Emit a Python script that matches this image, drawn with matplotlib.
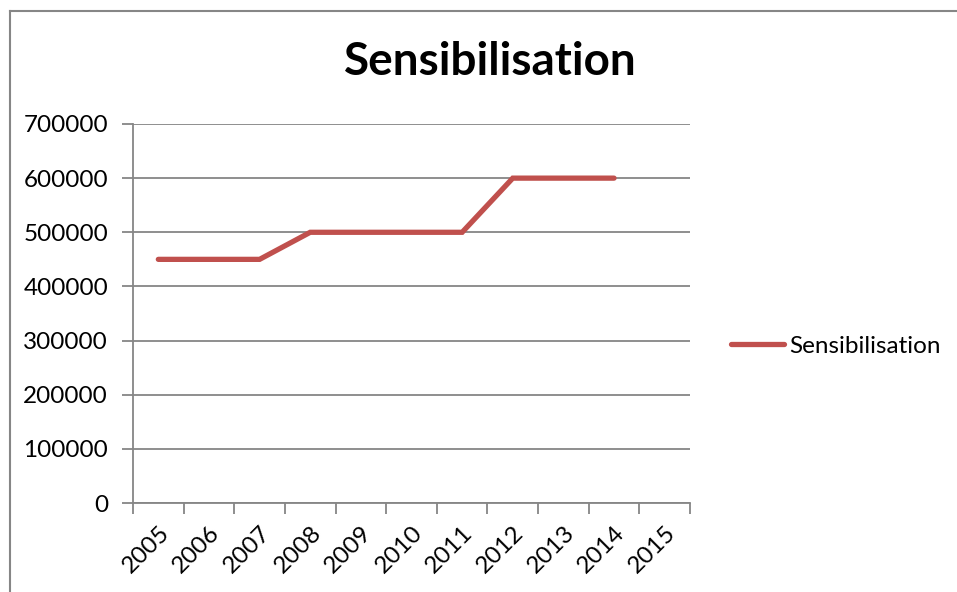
import numpy as np
import matplotlib.pyplot as plt
from matplotlib.lines import Line2D

years = ['2005', '2006', '2007', '2008', '2009', '2010',
         '2011', '2012', '2013', '2014', '2015']
sensibilisation = [450000, 450000, 450000, 500000, 500000, 500000,
                   500000, 600000, 600000, 600000, np.nan]
y_ticks = [0, 100000, 200000, 300000, 400000, 500000, 600000, 700000]

W, H = 957, 592
grey = '#868686'
red = '#C0504D'

plt.rcParams['font.family'] = ['Lato', 'DejaVu Sans']

fig = plt.figure(figsize=(W / 100, H / 100), dpi=100)

# plot area in pixel coordinates
left, right, top, bottom = 133, 690, 124, 503
ax = fig.add_axes([left / W, 1 - bottom / H, (right - left) / W, (bottom - top) / H])

centers = np.arange(len(years)) + 0.5
ax.plot(centers, sensibilisation, color=red, lw=3.8,
        solid_capstyle='round', solid_joinstyle='miter', label='Sensibilisation', zorder=3)

ax.set_xlim(0, len(years))
ax.set_ylim(0, 700000)

ax.set_yticks(y_ticks)
ax.set_yticklabels([str(v) for v in y_ticks], fontsize=17.5)
ax.yaxis.grid(True, color=grey, lw=1.3)
ax.set_axisbelow(True)

# tick marks between categories, labels at category centres
ax.set_xticks(np.arange(len(years) + 1))
ax.set_xticklabels([])
ax.set_xticks(centers, minor=True)
ax.set_xticklabels(years, minor=True, rotation=45, ha='right',
                   rotation_mode='anchor', fontsize=17.5)
ax.tick_params(axis='x', which='major', length=8, width=1.3, color=grey)
ax.tick_params(axis='x', which='minor', length=0, pad=14)
ax.tick_params(axis='y', length=8, width=1.3, color=grey, pad=10)

for s in ['top', 'right']:
    ax.spines[s].set_visible(False)
for s in ['left', 'bottom']:
    ax.spines[s].set_color(grey)
    ax.spines[s].set_linewidth(1.3)

fig.text(490 / W, 1 - 62 / H, 'Sensibilisation', ha='center', va='center',
         fontsize=33, fontweight='bold')

fig.legend(loc='center left', bbox_to_anchor=(709 / W, 1 - 346 / H),
           frameon=False, fontsize=17.5, handlelength=2.2, handletextpad=0.2)

# chart frame (left and top edges)
fig.add_artist(Line2D([10 / W, 10 / W], [0, 1 - 11 / H], color=grey, lw=1.5,
                      transform=fig.transFigure))
fig.add_artist(Line2D([10 / W, 1], [1 - 11 / H, 1 - 11 / H], color=grey, lw=1.5,
                      transform=fig.transFigure))

fig.savefig('out.png', dpi=100)
